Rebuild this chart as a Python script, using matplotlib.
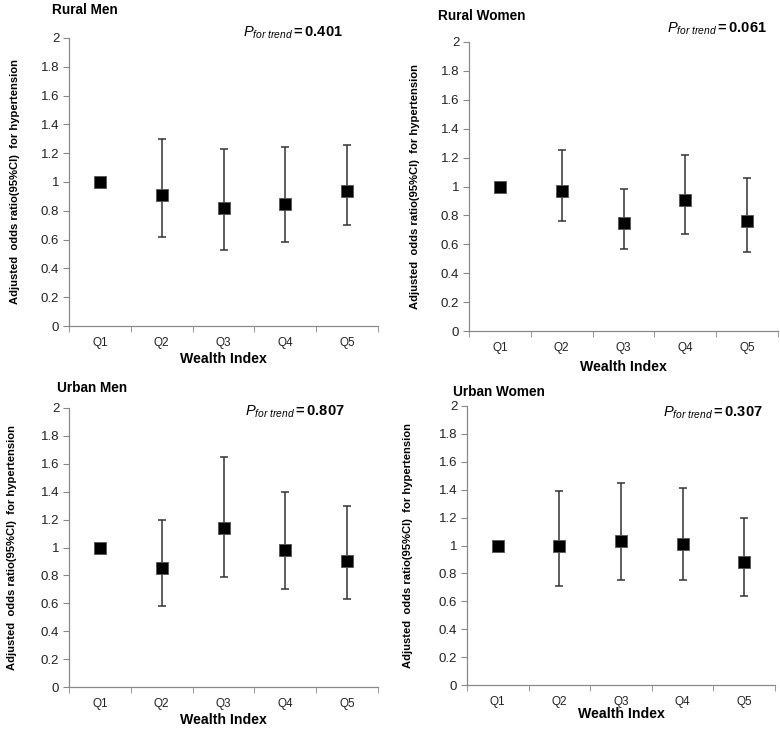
import matplotlib
matplotlib.use("Agg")
import matplotlib.pyplot as plt
from matplotlib.ticker import FuncFormatter

plt.rcParams['font.family'] = ['Liberation Sans', 'DejaVu Sans']
plt.rcParams['mathtext.fontset'] = 'custom'
plt.rcParams['mathtext.rm'] = 'Liberation Sans'
plt.rcParams['mathtext.it'] = 'Liberation Sans:italic'
plt.rcParams['mathtext.bf'] = 'Liberation Sans:bold'

# data
quintiles = ["Q1", "Q2", "Q3", "Q4", "Q5"]
titles = ["Rural Men", "Rural Women", "Urban Men", "Urban Women"]
p_trend = ["0.401", "0.061", "0.807", "0.307"]

rural_men_or = [1.0, 0.91, 0.82, 0.85, 0.94]
rural_men_lo = [1.0, 0.62, 0.53, 0.58, 0.70]
rural_men_hi = [1.0, 1.30, 1.23, 1.24, 1.26]

rural_women_or = [1.0, 0.97, 0.75, 0.91, 0.76]
rural_women_lo = [1.0, 0.76, 0.57, 0.67, 0.55]
rural_women_hi = [1.0, 1.25, 0.98, 1.22, 1.06]

urban_men_or = [1.0, 0.85, 1.14, 0.98, 0.90]
urban_men_lo = [1.0, 0.58, 0.79, 0.70, 0.63]
urban_men_hi = [1.0, 1.20, 1.65, 1.40, 1.30]

urban_women_or = [1.0, 1.00, 1.03, 1.01, 0.88]
urban_women_lo = [1.0, 0.71, 0.75, 0.75, 0.64]
urban_women_hi = [1.0, 1.39, 1.45, 1.41, 1.20]

panels = [
    (rural_men_or, rural_men_lo, rural_men_hi),
    (rural_women_or, rural_women_lo, rural_women_hi),
    (urban_men_or, urban_men_lo, urban_men_hi),
    (urban_women_or, urban_women_lo, urban_women_hi),
]

W, H = 780, 732
fig = plt.figure(figsize=(W / 100, H / 100), dpi=100)

# pixel boxes: left, right, top, bottom of each plot area
boxes = [(69, 378, 38, 326), (469, 778, 42, 331), (69, 378, 408, 687), (467, 775, 406, 685)]
title_pos = [(52, 10), (438, 16), (57, 388), (453, 392)]
p_pos = [(343, 33), (767, 29), (345, 412), (763, 413)]
xlab_y = [359, 367, 720, 714]
ylab_x = [15, 415, 12, 408]

axis_grey = "#888888"


def px(x, y):
    return x / W, 1 - y / H


for i, (orr, lo, hi) in enumerate(panels):
    l, r, t, b = boxes[i]
    ax = fig.add_axes([l / W, (H - b) / H, (r - l) / W, (b - t) / H])
    xs = list(range(1, 6))
    yerr_lo = [o - a for o, a in zip(orr, lo)]
    yerr_hi = [c - o for o, c in zip(orr, hi)]
    ax.errorbar(xs, orr, yerr=[yerr_lo, yerr_hi], fmt='none', ecolor="#333333",
                elinewidth=1.1, capsize=3, capthick=1.1, zorder=2)
    ax.plot(xs, orr, 's', color='black', markersize=8.5, markeredgecolor="#555555",
            markeredgewidth=0.6, zorder=3)

    ax.set_xlim(0.5, 5.5)
    ax.set_ylim(0, 2)
    ax.set_yticks([0, 0.2, 0.4, 0.6, 0.8, 1.0, 1.2, 1.4, 1.6, 1.8, 2.0])
    ax.yaxis.set_major_formatter(FuncFormatter(lambda v, p: "%g" % round(v, 1)))
    ax.set_xticks(xs)
    ax.set_xticklabels(quintiles)
    ax.set_xticks([0.5, 1.5, 2.5, 3.5, 4.5, 5.5], minor=True)
    ax.tick_params(axis='x', which='major', length=0, pad=8, labelsize=8.5, colors='#222222')
    ax.tick_params(axis='x', which='minor', length=4, color=axis_grey, direction='out')
    ax.tick_params(axis='y', length=4, color=axis_grey, labelsize=9.5, pad=3,
                   labelcolor='#222222')
    for s in ['top', 'right']:
        ax.spines[s].set_visible(False)
    for s in ['left', 'bottom']:
        ax.spines[s].set_color(axis_grey)
        ax.spines[s].set_linewidth(0.9)

    tx, ty = px(*title_pos[i])
    fig.text(tx, ty, titles[i], fontsize=9.8, fontweight='bold', ha='left', va='center')
    pxx, pyy = px(*p_pos[i])
    fig.text(pxx, pyy, r'$P_{for\ trend}\mathbf{= %s}$' % p_trend[i], fontsize=10.5,
             ha='right', va='center')
    cx, cy = px((l + r) / 2, xlab_y[i])
    fig.text(cx, cy, "Wealth Index", fontsize=10.2, fontweight='bold', ha='center', va='center')
    yx, yy = px(ylab_x[i], (t + b) / 2)
    fig.text(yx, yy, "Adjusted  odds ratio(95%CI)  for hypertension", fontsize=8.1,
             fontweight='bold', rotation=90, ha='center', va='center')

fig.savefig("out.png", dpi=100)
